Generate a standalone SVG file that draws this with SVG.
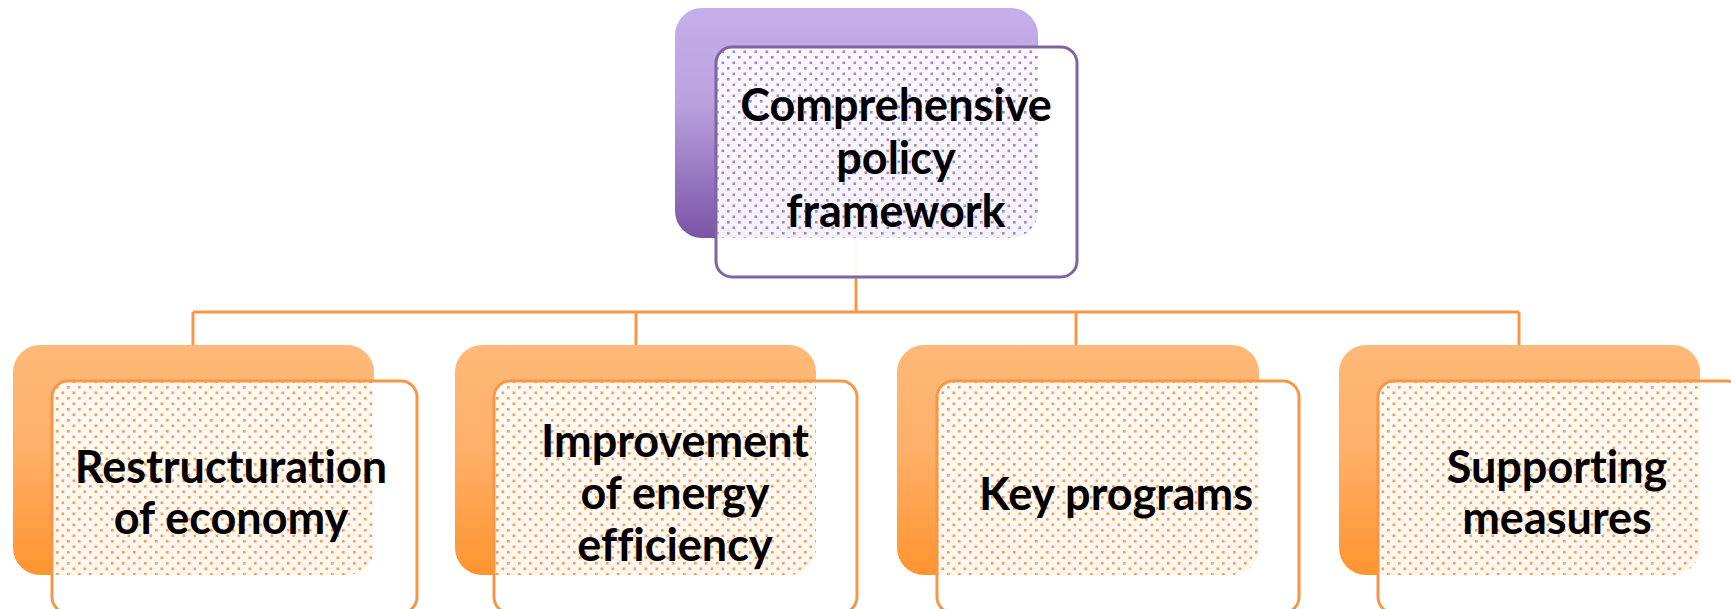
<svg xmlns="http://www.w3.org/2000/svg" width="1731" height="609" viewBox="0 0 1731 609">
<style>
  .lbl { font-family: Lato, "Open Sans", "Liberation Sans", sans-serif; font-weight: 700; font-size: 45px; fill: #000; text-anchor: middle; font-variant-ligatures: none; font-feature-settings: "liga" 0, "dlig" 0; }
  .conn { stroke: #f79646; stroke-width: 3; fill: none; }
  .frontO { fill: #fff; fill-opacity: 0.92; stroke: #f79646; stroke-width: 3; }
  .frontP { fill: #fff; fill-opacity: 0.92; stroke: #8064a2; stroke-width: 3; }
</style>
<defs>
  <linearGradient id="gP" x1="0" y1="0" x2="0" y2="1">
    <stop offset="0" stop-color="#c5aeea"/>
    <stop offset="0.4" stop-color="#bba3e0"/>
    <stop offset="1" stop-color="#7b54a6"/>
  </linearGradient>
  <linearGradient id="gO" x1="0" y1="0" x2="0" y2="1">
    <stop offset="0" stop-color="#ffb978"/>
    <stop offset="0.45" stop-color="#ffb06a"/>
    <stop offset="1" stop-color="#ff942f"/>
  </linearGradient>
  <pattern id="dP" width="11" height="11" patternUnits="userSpaceOnUse">
    <rect x="1" y="1" width="2.6" height="2.6" fill="#9f85d2"/>
    <rect x="6.5" y="6.5" width="2.6" height="2.6" fill="#9f85d2"/>
  </pattern>
  <pattern id="dO" width="11" height="11" patternUnits="userSpaceOnUse">
    <rect x="1" y="1" width="2.6" height="2.6" fill="#f99d4f"/>
    <rect x="6.5" y="6.5" width="2.6" height="2.6" fill="#f99d4f"/>
  </pattern>
</defs>

<g id="connectors">
  <path class="conn" d="M856,238 V312"/>
  <path class="conn" d="M193,312 H1519"/>
  <path class="conn" d="M193,312 V345"/>
  <path class="conn" d="M636,312 V345"/>
  <path class="conn" d="M1076,312 V345"/>
  <path class="conn" d="M1519,312 V345"/>
</g>

<g id="node-top">
  <rect x="675" y="8" width="363" height="230" rx="27" fill="url(#gP)"/>
  <rect class="frontP" x="716" y="47" width="361" height="230" rx="16"/>
  <path d="M732,48 H1038 V211 A27,27 0 0 1 1011,238 H717 V64 A16,16 0 0 1 732,48 Z" fill="url(#dP)"/>
  <text class="lbl"><tspan x="896" y="121">Comprehensive</tspan><tspan x="896" y="174">policy</tspan><tspan x="896" y="227">framework</tspan></text>
</g>

<g id="node-1">
  <rect x="13" y="345" width="361" height="230" rx="27" fill="url(#gO)"/>
  <rect class="frontO" x="52" y="381" width="365" height="232" rx="16"/>
  <path d="M68,382 H374 V548 A27,27 0 0 1 347,575 H53 V398 A16,16 0 0 1 68,382 Z" fill="url(#dO)"/>
  <text class="lbl"><tspan x="231" y="483">Restructuration</tspan><tspan x="231" y="534">of economy</tspan></text>
</g>

<g id="node-2">
  <rect x="455" y="345" width="361" height="230" rx="27" fill="url(#gO)"/>
  <rect class="frontO" x="494" y="381" width="363" height="232" rx="16"/>
  <path d="M510,382 H816 V548 A27,27 0 0 1 789,575 H495 V398 A16,16 0 0 1 510,382 Z" fill="url(#dO)"/>
  <text class="lbl"><tspan x="675" y="457">Improvement</tspan><tspan x="675" y="509">of energy</tspan><tspan x="675" y="561">efficiency</tspan></text>
</g>

<g id="node-3">
  <rect x="897" y="345" width="362" height="230" rx="27" fill="url(#gO)"/>
  <rect class="frontO" x="937" y="381" width="362" height="232" rx="16"/>
  <path d="M953,382 H1259 V548 A27,27 0 0 1 1232,575 H938 V398 A16,16 0 0 1 953,382 Z" fill="url(#dO)"/>
  <text class="lbl"><tspan x="1116" y="510">Key programs</tspan></text>
</g>

<g id="node-4">
  <rect x="1339" y="345" width="361" height="230" rx="27" fill="url(#gO)"/>
  <rect class="frontO" x="1378" y="381" width="365" height="232" rx="16"/>
  <path d="M1394,382 H1700 V548 A27,27 0 0 1 1673,575 H1379 V398 A16,16 0 0 1 1394,382 Z" fill="url(#dO)"/>
  <text class="lbl"><tspan x="1557" y="483">Supporting</tspan><tspan x="1557" y="534">measures</tspan></text>
</g>
</svg>
